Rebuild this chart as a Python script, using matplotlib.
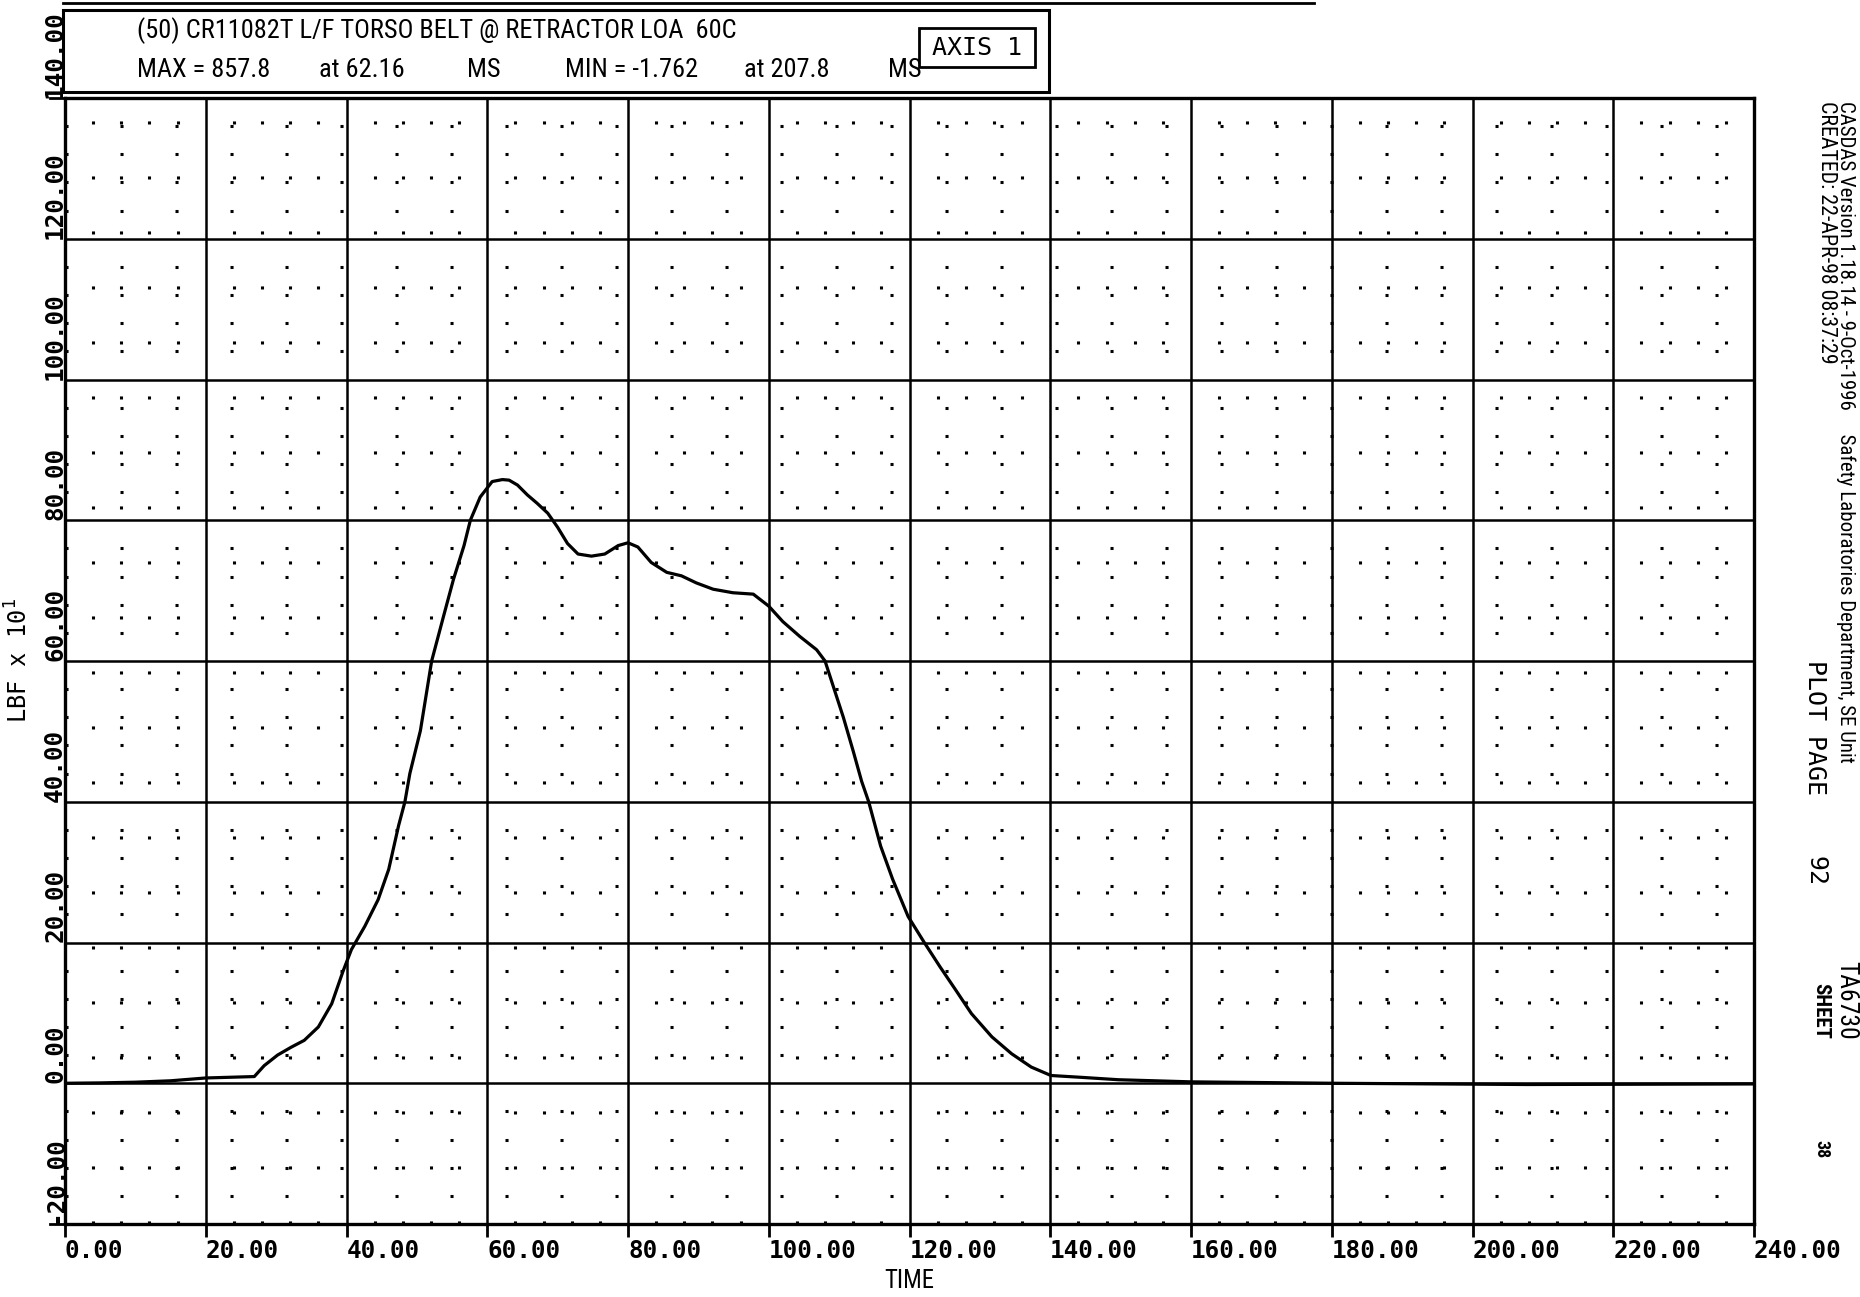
import matplotlib
matplotlib.use("Agg")
import matplotlib.pyplot as plt
from matplotlib.lines import Line2D
from matplotlib.patches import Rectangle

# belt force trace (time in ms, force in LBF x 10)
time_ms = [0, 5, 10, 15, 20, 26.9, 28.3, 30.2, 32.1, 34.0, 36.0, 37.9, 39.5, 40.7,
           42.6, 44.5, 46.0, 47.4, 48.3, 49.0, 50.5, 52.1, 53.8, 55.2, 56.7, 57.6,
           59.0, 60.7, 62.16, 63.1, 64.3, 65.7, 67.1, 68.6, 70.0, 71.4, 72.9, 74.8,
           76.7, 78.6, 80.0, 81.4, 83.3, 85.5, 87.6, 89.7, 92.1, 94.9, 97.8, 100.0,
           102.0, 104.4, 106.8, 108.0, 109.2, 110.6, 112.0, 113.2, 114.2, 115.9,
           117.6, 119.8, 122.1, 124.3, 126.6, 128.8, 131.7, 134.5, 137.3, 140.1,
           144.1, 149.7, 160, 180, 207.8, 240]
force = [0.0, 0.05, 0.15, 0.35, 0.75, 0.95, 2.5, 4.0, 5.1, 6.1, 8.0, 11.3, 15.9, 19.0,
         22.3, 26.1, 30.4, 36.6, 40.0, 44.0, 50.1, 60.0, 66.4, 71.6, 76.4, 80.0,
         83.3, 85.5, 85.78, 85.7, 85.0, 83.6, 82.4, 81.0, 79.0, 76.7, 75.2, 74.9,
         75.2, 76.4, 76.8, 76.2, 74.0, 72.6, 72.1, 71.1, 70.2, 69.7, 69.5, 67.8,
         65.6, 63.5, 61.6, 60.0, 56.3, 52.0, 47.2, 42.9, 40.0, 33.7,
         29.0, 23.7, 20.0, 16.6, 13.2, 9.9, 6.6, 4.2, 2.3, 1.1,
         0.86, 0.5, 0.2, 0.0, -0.18, -0.1]

x_ticks = [0, 20, 40, 60, 80, 100, 120, 140, 160, 180, 200, 220, 240]
y_ticks = [-20, 0, 20, 40, 60, 80, 100, 120, 140]
x_tick_labels = ["0.00", "20.00", "40.00", "60.00", "80.00", "100.00", "120.00",
                 "140.00", "160.00", "180.00", "200.00", "220.00", "240.00"]
y_tick_labels = ["-20.00", "0.00", "20.00", "40.00", "60.00", "80.00", "100.00",
                 "120.00", "140.00"]
x_minor = [v for v in range(0, 241, 4)]
y_minor = [v for v in range(-20, 141, 4)]

title_line = "(50) CR11082T L/F TORSO BELT @ RETRACTOR LOA  60C"
stats_parts = ["MAX = 857.8", "at 62.16", "MS", "MIN = -1.762", "at 207.8", "MS"]
stats_x = [137, 319, 467, 565, 744, 888]
side_line1 = "CASDAS Version 1.18.14 - 9-Oct-1996     Safety Laboratories Department, SE Unit"
side_line2 = "CREATED: 22-APR-98 08:37:29"

W, H = 1860, 1297
NARROW = ["Roboto Condensed", "Liberation Sans Narrow", "Liberation Sans", "DejaVu Sans"]
MONO = "DejaVu Sans Mono"


def fx(x):
    return x / W


def fy(y):
    return 1 - y / H


fig = plt.figure(figsize=(W / 100, H / 100), dpi=100)
renderer = fig.canvas.get_renderer()


def fit(txt, length_px, rotated=False):
    # scale the font so the string spans the same length as on the scan
    bb = txt.get_window_extent(renderer)
    cur = bb.height if rotated else bb.width
    txt.set_fontsize(txt.get_fontsize() * length_px / cur)
    return txt


ax = fig.add_axes([fx(65), fy(1224), (1754 - 65) / W, (1224 - 98) / H])

ax.plot(time_ms, force, color="black", linewidth=2.3, zorder=5)

ax.set_xlim(0, 240)
ax.set_ylim(-20, 140)
ax.set_xticks(x_ticks)
ax.set_xticklabels(x_tick_labels, ha="left", fontfamily=MONO, fontsize=17.5,
                   fontweight="bold")
ax.set_yticks(y_ticks)
ax.set_yticklabels(y_tick_labels, rotation=90, rotation_mode="anchor",
                   ha="left", va="baseline", fontfamily=MONO, fontsize=17.5,
                   fontweight="bold")
ax.set_xticks(x_minor, minor=True)
ax.set_yticks(y_minor, minor=True)
ax.tick_params(axis="x", which="major", length=9, width=2, pad=2, direction="out")
ax.tick_params(axis="y", which="major", length=0, pad=2)
ax.tick_params(which="minor", length=0)

ax.grid(True, which="major", color="black", linewidth=1.8)
ax.grid(True, which="minor", color="black", linewidth=2.2, linestyle=(0, (1, 17)))
ax.set_axisbelow(True)
for sp in ax.spines.values():
    sp.set_linewidth(2.4)

xl = ax.set_xlabel("TIME", fontfamily=NARROW, fontsize=19)
fit(xl, 50)
ax.xaxis.set_label_coords(0.5, -0.04)
ax.set_ylabel(r"LBF x 10$^{1}$", fontfamily=MONO, fontsize=17)
ax.yaxis.set_label_coords(-0.019, 0.5)

# short spine extensions to the left, as on the plotter output
for yy in (98, 1224):
    fig.add_artist(Line2D([fx(50), fx(65)], [fy(yy), fy(yy)], color="black", lw=2))

# header box
fig.add_artist(Line2D([fx(63), fx(1314)], [fy(3), fy(3)], color="black", lw=2))
fig.add_artist(Rectangle((fx(63), fy(92)), (1049 - 63) / W, (92 - 10) / H,
                         fill=False, edgecolor="black", lw=2.2))
t = fig.text(fx(137), fy(31), title_line, fontfamily=NARROW, fontsize=18, va="center")
fit(t, 600)
head_size = t.get_fontsize()
for txt, xx in zip(stats_parts, stats_x):
    fig.text(fx(xx), fy(70), txt, fontfamily=NARROW, fontsize=head_size, va="center")
fig.add_artist(Rectangle((fx(919), fy(67)), (1035 - 919) / W, (67 - 28) / H,
                         fill=False, edgecolor="black", lw=2))
fig.text(fx(977), fy(48), "AXIS 1", fontfamily=MONO, fontsize=18,
         ha="center", va="center")

# right margin annotations
side = dict(rotation=270, rotation_mode="anchor", ha="left", va="center")
fit(fig.text(fx(1846), fy(101), side_line1, fontfamily=NARROW, fontsize=13, **side),
    658, rotated=True)
fit(fig.text(fx(1826), fy(101), side_line2, fontfamily=NARROW, fontsize=13, **side),
    262, rotated=True)
fig.text(fx(1815), fy(660), "PLOT PAGE", fontfamily=MONO, fontsize=18, **side)
fig.text(fx(1815), fy(856), "92", fontfamily=MONO, fontsize=18, **side)
fit(fig.text(fx(1846), fy(961), "TA6730", fontfamily=NARROW, fontsize=18, **side),
    79, rotated=True)
fit(fig.text(fx(1821), fy(983), "SHEET", fontfamily=NARROW, fontsize=15,
             fontweight="bold", **side), 56, rotated=True)
fit(fig.text(fx(1821), fy(1140), "38", fontfamily=NARROW, fontsize=12,
             fontweight="bold", **side), 18, rotated=True)

fig.savefig("out.png", dpi=100)
